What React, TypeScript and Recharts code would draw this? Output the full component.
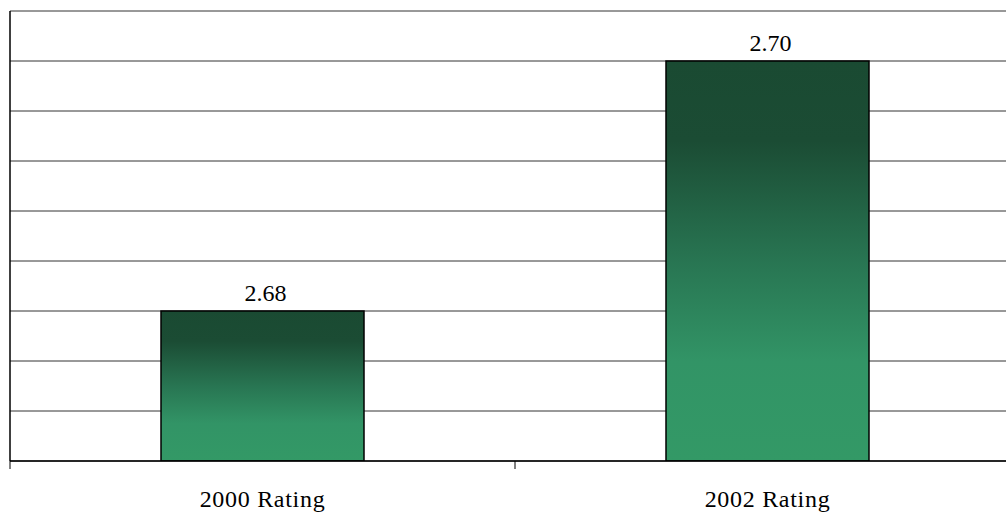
import { BarChart, Bar, XAxis, YAxis, CartesianGrid, LabelList } from 'recharts'

// Ratings comparison — two bars, value labels on top
const categories = ['2000 Rating', '2002 Rating']
const ratings = [2.68, 2.7]
const yTicks = [2.668, 2.672, 2.676, 2.68, 2.684, 2.688, 2.692, 2.696, 2.7, 2.704]

const data = categories.map((name, i) => ({ name, rating: ratings[i] }))

const FONT = 'Liberation Serif'

// tick: label at band centre, tick mark at the band's left edge (Excel style)
function CategoryTick(props: any) {
  const { x, y, payload } = props
  const half = payload?.offset ?? 0
  return (
    <g>
      <line x1={x - half} y1={y - 27} x2={x - half} y2={y - 19} stroke="#000" strokeWidth={1} />
      <text
        x={x}
        y={y}
        dy={19}
        textAnchor="middle"
        fill="#000"
        fontFamily={FONT}
        fontSize={24}
        letterSpacing={0.7}
      >
        {payload.value}
      </text>
    </g>
  )
}

export default function App() {
  // chart is a bit wider than the window: the right end of the plot is cut off
  return (
    <div style={{ position: 'fixed', left: 0, top: 0, width: 1006, height: 514, overflow: 'hidden', background: '#fff' }}>
      <BarChart
        width={1020}
        height={514}
        data={data}
        margin={{ top: 11, right: 0, left: 9, bottom: 0 }}
        barSize={203}
      >
        <defs>
          <linearGradient id="greenFade" x1="0" y1="0" x2="0" y2="1">
            <stop offset="0%" stopColor="#1a4a32" />
            <stop offset="20%" stopColor="#1b4c34" />
            <stop offset="50%" stopColor="#287552" />
            <stop offset="75%" stopColor="#329466" />
            <stop offset="100%" stopColor="#339966" />
          </linearGradient>
        </defs>
        <CartesianGrid
          horizontal
          vertical={false}
          stroke="#333"
          strokeWidth={1}
          horizontalValues={yTicks}
        />
        <YAxis
          type="number"
          domain={[yTicks[0], yTicks[yTicks.length - 1]]}
          ticks={yTicks}
          width={1}
          tick={() => <g />}
          tickLine={false}
          axisLine={{ stroke: '#000', strokeWidth: 1.5 }}
          allowDataOverflow
        />
        <XAxis
          dataKey="name"
          height={53}
          tickLine={false}
          tickSize={8}
          tickMargin={19}
          axisLine={{ stroke: '#000', strokeWidth: 1.5 }}
          tick={<CategoryTick />}
          interval={0}
        />
        <Bar
          dataKey="rating"
          fill="url(#greenFade)"
          stroke="#000"
          strokeWidth={1.5}
          isAnimationActive={false}
        >
          <LabelList
            dataKey="rating"
            position="top"
            offset={10}
            dx={3}
            formatter={(v: any) => Number(v).toFixed(2)}
            fontFamily={FONT}
            fontSize={24}
            fill="#000"
          />
        </Bar>
      </BarChart>
    </div>
  )
}
